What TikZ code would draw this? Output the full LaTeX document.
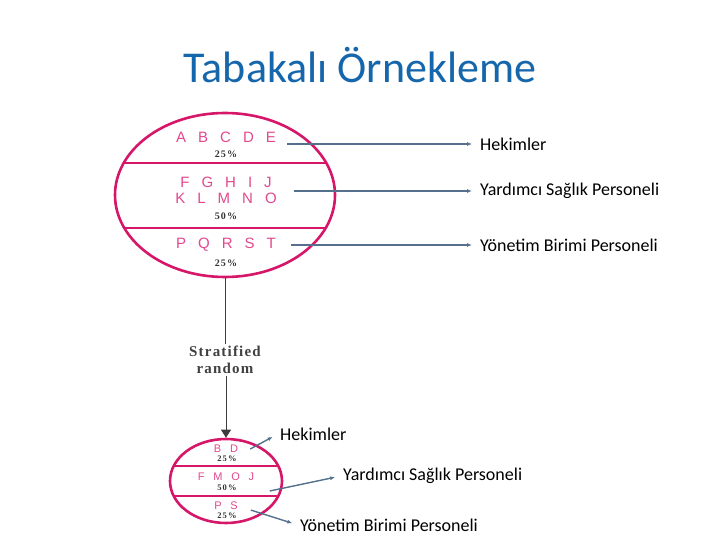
\documentclass[tikz,border=0pt]{standalone}
\usepackage{fontspec}
\setmainfont{Carlito}
\newfontfamily\stratfont[LetterSpace=80]{Liberation Sans}
\newfontfamily\pctfont[LetterSpace=12]{Liberation Serif}
\newfontfamily\stepfont[LetterSpace=8]{Liberation Serif}
\usetikzlibrary{positioning,shapes.geometric,arrows.meta}

\definecolor{titleblue}{RGB}{22,102,172}
\definecolor{rimpink}{RGB}{214,22,104}
\definecolor{letterpink}{RGB}{226,72,142}
\definecolor{linkblue}{RGB}{84,112,140}
\definecolor{stemgray}{RGB}{60,60,60}

\begin{document}
\begin{tikzpicture}[
    x=1pt, y=-1pt,
    font=\fontsize{18}{21}\selectfont,
    rim/.style={ellipse, draw=rimpink, line width=2.6pt, inner sep=0pt},
    divider/.style={draw=rimpink, line width=2pt},
    bigletters/.style={font=\stratfont\fontsize{15}{15}\selectfont, text=letterpink, inner sep=0pt},
    bigpct/.style={font=\pctfont\bfseries\fontsize{10}{10}\selectfont, text=black!80, inner sep=0pt},
    smallletters/.style={font=\stratfont\fontsize{11}{11}\selectfont, text=letterpink, inner sep=0pt},
    smallpct/.style={font=\pctfont\bfseries\fontsize{8.5}{8.5}\selectfont, text=black!80, inner sep=0pt},
    grouplabel/.style={anchor=west, inner sep=2pt},
    link/.style={draw=linkblue, line width=1.4pt, shorten >=6pt, -{Latex[length=5pt,width=4pt]}},
    stem/.style={draw=stemgray, line width=0.9pt},
]
\useasboundingbox (0,0) rectangle (720,540);

\node[font=\fontsize{44}{48}\selectfont, text=titleblue] (title) at (360,65) {Tabakalı Örnekleme};

% population
\node[rim, minimum width=220pt, minimum height=164pt] (big) at (225,195) {};
\begin{scope}
  \clip (225,195) ellipse [x radius=110, y radius=82];
  \draw[divider] (100,163) -- (350,163);
  \draw[divider] (100,228) -- (350,228);
\end{scope}
\node[bigletters] (abcde) at (226,137) {ABCDE};
\node[bigpct] (p1) at (226,154) {25\%};
\node[bigletters] (fghij) at (226,182) {FGHIJ};
\node[bigletters] (klmno) at (226,198) {KLMNO};
\node[bigpct] (p2) at (226,216) {50\%};
\node[bigletters] (pqrst) at (226,245) {PQRST};
\node[bigpct] (p3) at (226,263) {25\%};

\node[grouplabel] (hek1) at (478,144) {Hekimler};
\node[grouplabel] (yard1) at (478,191) {Yardımcı Sağlık Personeli};
\node[grouplabel] (yon1) at (478,245) {Yönetim Birimi Personeli};

\draw[link] ([xshift=11pt]abcde.east |- hek1.west) -- (hek1.west);
\draw[link] ([xshift=17pt]klmno.east |- yard1.west) -- (yard1.west);
\draw[link] ([xshift=15pt]pqrst.east |- yon1.west) -- (yon1.west);

% sampling step
\node[font=\stepfont\bfseries\fontsize{15}{17}\selectfont, text=black!75, align=center, inner sep=2pt]
    (strat) at (225,360) {Stratified\\random};

% sample
\node[rim, minimum width=112pt, minimum height=84pt] (small) at (226,481) {};
\begin{scope}
  \clip (226,481) ellipse [x radius=56, y radius=42];
  \draw[divider] (160,466) -- (300,466);
  \draw[divider] (160,496) -- (300,496);
\end{scope}
\node[smallletters] (bd) at (226,449) {BD};
\node[smallpct] (q1) at (227,459) {25\%};
\node[smallletters] (fmoj) at (226,477) {FMOJ};
\node[smallpct] (q2) at (227,488) {50\%};
\node[smallletters] (ps) at (226,506) {PS};
\node[smallpct] (q3) at (227,516) {25\%};

\node[grouplabel] (hek2) at (278,434) {Hekimler};
\node[grouplabel] (yard2) at (341,476) {Yardımcı Sağlık Personeli};
\node[grouplabel] (yon2) at (298,525) {Yönetim Birimi Personeli};

\draw[link] ([xshift=12pt]bd.east) -- (hek2.west);
\draw[link] ([xshift=33pt,yshift=-3pt]q2.east) -- (yard2.west);
\draw[link] ([xshift=13pt]ps.south east) -- (yon2.west);

\draw[stem] (big.south) -- (big.south |- strat.north);
\draw[stem, -{Triangle[length=8pt,width=10pt]}] (small.north |- strat.south) -- (small.north);

\end{tikzpicture}
\end{document}
